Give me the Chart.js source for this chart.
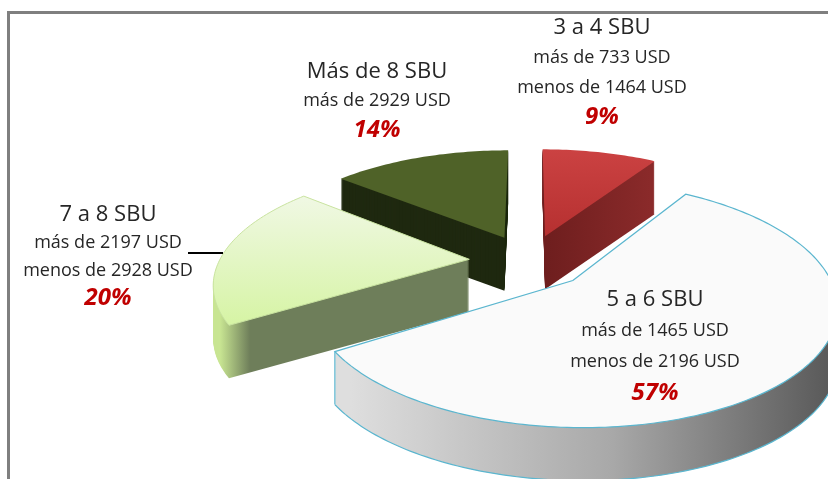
<!DOCTYPE html>
<html>
<head>
<meta charset="utf-8">
<title>SBU</title>
<script src="https://cdn.jsdelivr.net/npm/chart.js@4.4.0/dist/chart.umd.min.js"></script>
<style>
    html, body { margin: 0; padding: 0; background: #fff; }
    #wrap { position: relative; width: 828px; height: 479px; overflow: hidden; }
    #frame {
        position: absolute; left: 7px; top: 11px; width: 900px; height: 600px;
        border-top: 3px solid #7f7f7f; border-left: 3px solid #7f7f7f;
    }
    #chart { position: absolute; left: 0; top: 0; }
</style>
</head>
<body>
<div id="wrap">
    <div id="frame"></div>
    <canvas id="chart" width="828" height="479"></canvas>
</div>
<script>
// Data (clockwise from 12 o'clock)
const categories = ['3 a 4 SBU', '5 a 6 SBU', '7 a 8 SBU', 'Más de 8 SBU'];
const shares = [9, 57, 20, 14];
const rangeFrom = ['más de 733 USD', 'más de 1465 USD', 'más de 2197 USD', 'más de 2929 USD'];
const rangeTo = ['menos de 1464 USD', 'menos de 2196 USD', 'menos de 2928 USD', ''];

// Look of the 3D pie
const TILT = 0.446;     // vertical squash of the disc
const PERSP = 1344;     // perspective distance (px)
const DEPTH = 53;       // thickness in px
const topColors = ['#c43a3a', '#fafafa', '#e2f6c0', '#4f6228'];
const sideColors = ['#7a2222', '#a8a8a8', '#6e7e5a', '#1f2910'];

// Label layout: centre x, first line y, line gap
const labelPos = [[602, 28, 29.7], [655, 300, 31], [108, 215, 27.7], [377, 72, 29]];

function sideFill(c, i) {
    if (i === 1) {
        const g = c.createLinearGradient(350, 0, 828, 0);
        g.addColorStop(0, '#dedede');
        g.addColorStop(0.55, '#a8a8a8');
        g.addColorStop(1, '#5a5a5a');
        return g;
    }
    if (i === 2) {
        const g = c.createLinearGradient(220, 0, 250, 0);
        g.addColorStop(0, '#c8e592');
        g.addColorStop(1, sideColors[i]);
        return g;
    }
    if (i === 0) {
        const g = c.createLinearGradient(545, 0, 650, 0);
        g.addColorStop(0, '#6e1e1e');
        g.addColorStop(1, '#8a2a2a');
        return g;
    }
    return sideColors[i];
}

function topFill(c, i, y0, y1) {
    if (i === 2) {
        const g = c.createLinearGradient(0, y0, 0, y1);
        g.addColorStop(0, '#f0f8e4');
        g.addColorStop(1, '#d6f4a4');
        return g;
    }
    if (i === 0) {
        const g = c.createLinearGradient(0, y0, 0, y1);
        g.addColorStop(0, '#cb4242');
        g.addColorStop(1, '#b63030');
        return g;
    }
    return topColors[i];
}

const pie3d = {
    id: 'pie3d',
    beforeDatasetsDraw(chart) {
        const meta = chart.getDatasetMeta(0);
        const c = chart.ctx;
        const midOf = el => (el.startAngle + el.endAngle) / 2;
        // paint back slices first
        const order = meta.data.map((el, i) => i)
            .sort((a, b) => Math.sin(midOf(meta.data[a])) - Math.sin(midOf(meta.data[b])));

        order.forEach(i => {
            const el = meta.data[i];
            const p = el.getProps(['x', 'y', 'startAngle', 'endAngle', 'outerRadius'], true);
            const off = el.options.offset || 0;
            const m = (p.startAngle + p.endAngle) / 2;
            const ox = Math.cos(m) * off;
            const oy = Math.sin(m) * off;
            // tilted disc seen in perspective
            const project = (u, v) => {
                const s = 1 / (1 - v / PERSP);
                return [p.x + u * s, p.y + TILT * v * s];
            };
            const n = Math.max(8, Math.ceil((p.endAngle - p.startAngle) / 0.02));
            const pts = [project(ox, oy)];
            for (let k = 0; k <= n; k++) {
                const a = p.startAngle + (p.endAngle - p.startAngle) * k / n;
                pts.push(project(ox + Math.cos(a) * p.outerRadius, oy + Math.sin(a) * p.outerRadius));
            }
            const path = (list, d, close) => {
                c.beginPath();
                list.forEach(([X, Y], k) => k ? c.lineTo(X, Y + d) : c.moveTo(X, Y + d));
                if (close) c.closePath();
            };
            const ys = pts.map(q => q[1]);

            c.save();
            // side walls
            c.fillStyle = sideFill(c, i);
            for (let d = DEPTH; d > 0; d--) {
                path(pts, d, true);
                c.fill();
            }
            if (i === 1) {
                c.strokeStyle = '#5bb6cf';
                c.lineWidth = 1.2;
                path(pts.slice(1), DEPTH, false);
                c.stroke();
                const last = pts[pts.length - 1];
                c.beginPath();
                c.moveTo(last[0], last[1]);
                c.lineTo(last[0], last[1] + DEPTH);
                c.stroke();
            }
            // top face
            c.fillStyle = topFill(c, i, Math.min(...ys), Math.max(...ys));
            path(pts, 0, true);
            c.fill();
            if (i === 1) {
                c.strokeStyle = '#5bb6cf';
                c.lineWidth = 1.2;
                c.stroke();
            } else if (i === 2) {
                c.strokeStyle = '#c9e3a0';
                c.lineWidth = 1;
                c.stroke();
            }
            c.restore();
        });
        return false;
    }
};

const sliceLabels = {
    id: 'sliceLabels',
    afterDraw(chart) {
        const c = chart.ctx;
        c.save();
        c.textAlign = 'center';
        c.textBaseline = 'middle';

        // leader line of the 7 a 8 SBU label
        c.strokeStyle = '#000';
        c.lineWidth = 2;
        c.beginPath();
        c.moveTo(188, 253);
        c.lineTo(223, 253);
        c.stroke();

        categories.forEach((name, i) => {
            const [x, y, gap] = labelPos[i];
            const lines = [rangeFrom[i], rangeTo[i]].filter(s => s);
            c.fillStyle = '#262626';
            c.font = '22px "Open Sans"';
            c.fillText(name, x, y);
            c.font = '18px "Open Sans"';
            lines.forEach((t, k) => c.fillText(t, x, y + gap * (k + 1)));
            c.fillStyle = '#c00000';
            c.font = 'italic bold 24px "Open Sans"';
            c.fillText(shares[i] + '%', x, y + gap * (lines.length + 1));
        });
        c.restore();
    }
};

const ctx = document.getElementById('chart').getContext('2d');
new Chart(ctx, {
    type: 'pie',
    data: {
        labels: categories,
        datasets: [{
            data: shares,
            backgroundColor: topColors,
            borderWidth: 0,
            offset: 60,
            radius: 250
        }]
    },
    options: {
        responsive: false,
        animation: false,
        layout: { padding: { left: 230, top: 43, right: 0, bottom: 0 } },
        plugins: {
            legend: { display: false },
            tooltip: { enabled: false }
        }
    },
    plugins: [pie3d, sliceLabels]
});
</script>
</body>
</html>
